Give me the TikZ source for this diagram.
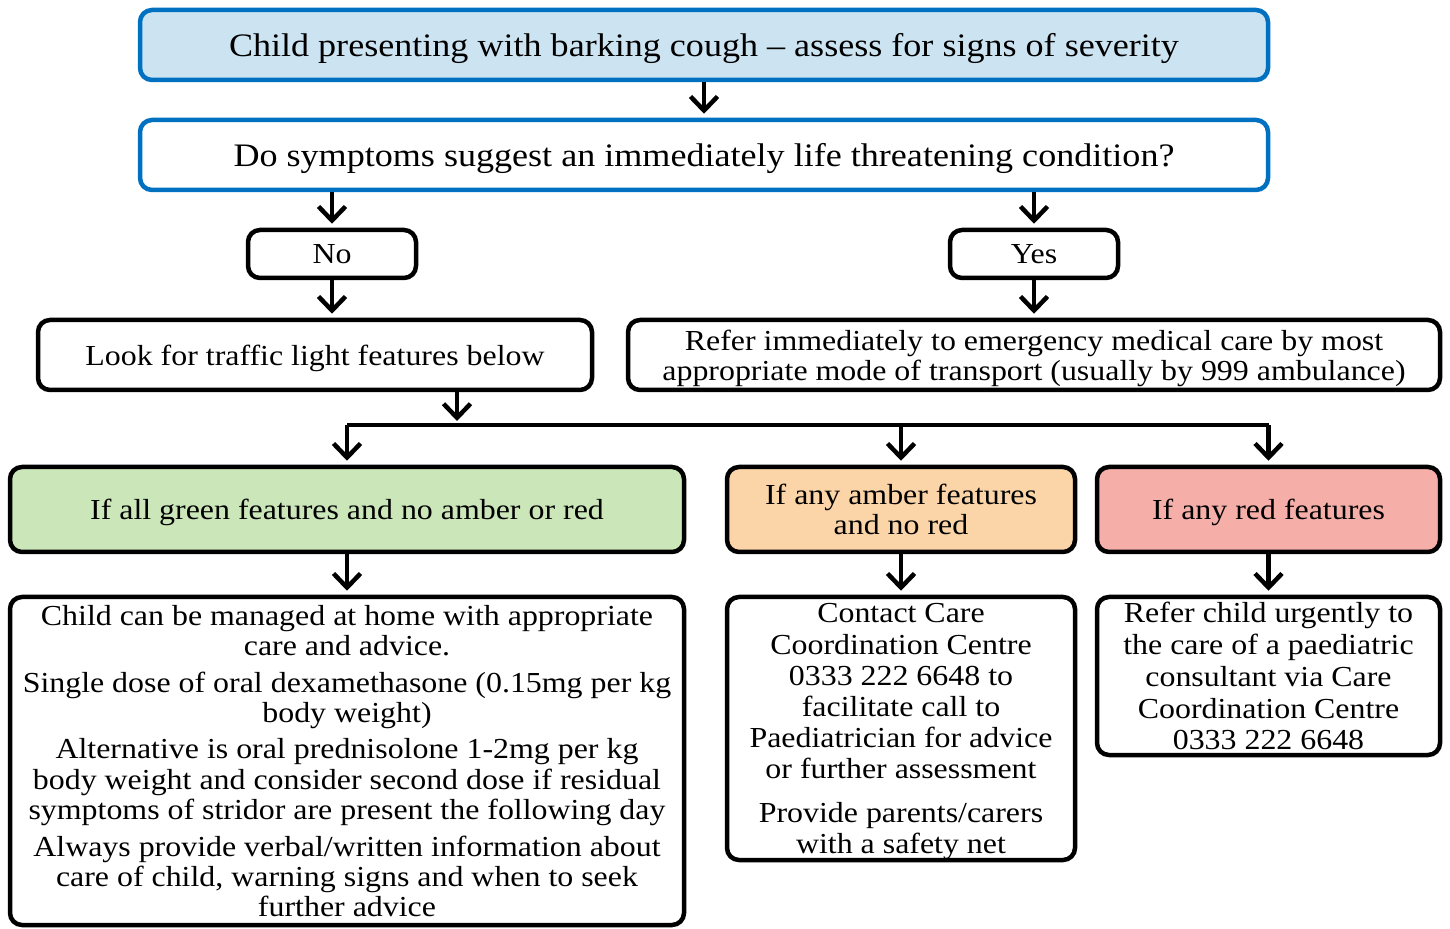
\documentclass[tikz,border=0pt]{standalone}
\usepackage{fontspec}
\setmainfont{Liberation Serif}[FakeStretch=1.1]
\usepackage{xcolor}
\usetikzlibrary{arrows.meta}

\definecolor{nhsblue}{RGB}{0,112,192}
\definecolor{sevfill}{RGB}{204,228,242}
\definecolor{greenfill}{RGB}{203,230,185}
\definecolor{amberfill}{RGB}{251,213,167}
\definecolor{redfill}{RGB}{245,174,168}

\tikzset{
  box/.style={draw, rectangle, rounded corners=6pt, line width=2.25pt, align=center, inner sep=0pt,
    text depth=0pt, font=\fontsize{14.5}{15.2}\selectfont},
  bluebox/.style={box, draw=nhsblue, font=\fontsize{16.4}{17}\selectfont},
  arr/.style={-{Straight Barb[length=7pt,width=13.5pt]}, line width=2.25pt, shorten >=2pt},
  link/.style={line width=2.25pt}
}

\begin{document}
\begin{tikzpicture}[x=0.5pt, y=-0.5pt]
  \useasboundingbox (0,0) rectangle (1450,929);

  \node [bluebox, fill=sevfill, minimum width=564pt, minimum height=35pt] (sev) at (704,45)
    {Child presenting with barking cough -- assess for signs of severity};
  \node [bluebox, fill=white, minimum width=564pt, minimum height=35pt] (quest) at (704,155)
    {Do symptoms suggest an immediately life threatening condition?};

  \node [box, minimum width=84pt, minimum height=24pt] (no) at (332,254) {No};
  \node [box, minimum width=84pt, minimum height=24pt] (yes) at (1034,254) {Yes};

  \node [box, minimum width=277pt, minimum height=35pt] (look) at (315,355)
    {Look for traffic light features below};
  \node [box, minimum width=406pt, minimum height=35pt] (refer) at (1034,355)
    {Refer immediately to emergency medical care by most\\appropriate mode of transport (usually by 999 ambulance)};

  \node [box, fill=greenfill, minimum width=337pt, minimum height=42.5pt] (green) at (347,509.5)
    {If all green features and no amber or red};
  \node [box, fill=amberfill, minimum width=174pt, minimum height=42.5pt] (amber) at (901,509.5)
    {If any amber features\\and no red};
  \node [box, fill=redfill, minimum width=171.5pt, minimum height=42.5pt] (red) at (1268.5,509.5)
    {If any red features};

  \node [box, minimum width=337pt, minimum height=164pt] (greenact) at (347,761)
    {Child can be managed at home with appropriate\\care and advice.\\[3pt]
     Single dose of oral dexamethasone (0.15mg per kg\\body weight)\\[3pt]
     Alternative is oral prednisolone 1-2mg per kg\\body weight and consider second dose if residual\\symptoms of stridor are present the following day\\[3pt]
     Always provide verbal/written information about\\care of child, warning signs and when to seek\\further advice};
  \node [box, minimum width=174pt, minimum height=131.5pt, font=\fontsize{14.5}{15.6}\selectfont] (amberact) at (901,728.5)
    {Contact Care\\Coordination Centre\\0333 222 6648 to\\facilitate call to\\Paediatrician for advice\\or further assessment\\[6pt]
     Provide parents/carers\\with a safety net};
  \node [box, minimum width=171.5pt, minimum height=79pt, font=\fontsize{14.5}{15.9}\selectfont] (redact) at (1268.5,676)
    {Refer child urgently to\\the care of a paediatric\\consultant via Care\\Coordination Centre\\0333 222 6648};

  \coordinate (split) at (457,425);

  \draw [arr] (sev) -- (quest);
  \draw [arr] (no.north |- quest.south) -- (no.north);
  \draw [arr] (yes.north |- quest.south) -- (yes.north);
  \draw [arr] (no.south) -- (no.south |- look.north);
  \draw [arr] (yes.south) -- (refer.north);
  \draw [arr] (split |- look.south) -- (split);
  \draw [link] (green.north |- split) -- (red.north |- split);
  \draw [arr] (green.north |- split) -- (green.north);
  \draw [arr] (amber.north |- split) -- (amber.north);
  \draw [arr] (red.north |- split) -- (red.north);
  \draw [arr] (green) -- (greenact);
  \draw [arr] (amber) -- (amberact);
  \draw [arr] (red) -- (redact);
\end{tikzpicture}
\end{document}
